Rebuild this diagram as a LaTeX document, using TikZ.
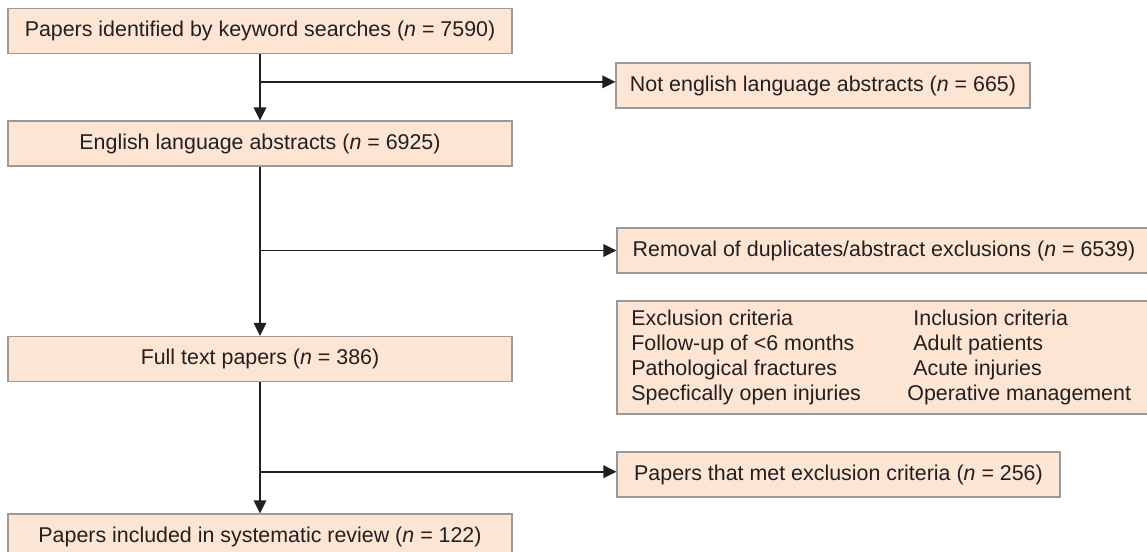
\documentclass[tikz,border=0pt]{standalone}
\usepackage{fontspec}
\setmainfont{Liberation Sans}
\usepackage{tikz}
\usetikzlibrary{shapes,arrows.meta,positioning,calc}
\definecolor{boxfill}{HTML}{FDE5D3}
\definecolor{boxline}{HTML}{9A9A9A}
\definecolor{ink}{HTML}{231F20}

\begin{document}
\begin{tikzpicture}[x=0.5pt,y=-0.5pt,
  txt/.style={text=ink,font=\fontsize{10.7}{12.5}\selectfont},
  box/.style={txt,draw=boxline,fill=boxfill,line width=0.6pt,minimum height=22.5pt,inner sep=0pt},
  mainbox/.style={box,minimum width=252pt},
  arr/.style={draw=ink,line width=0.8pt,-{Triangle[length=6.5pt,width=6.3pt]}}]
\useasboundingbox (0,0) rectangle (1147,552);
\node[mainbox] (search) at (260,31) {Papers identified by keyword searches (\textit{n} = 7590)};
\node[mainbox] (english) at (260,143.5) {English language abstracts (\textit{n} = 6925)};
\node[mainbox] (fulltext) at (260,359) {Full text papers (\textit{n} = 386)};
\node[mainbox] (included) at (260,536.5) {Papers included in systematic review (\textit{n} = 122)};
\node[box,minimum width=207pt] (notenglish) at (823,85.5) {Not english language abstracts (\textit{n} = 665)};
\node[box,minimum width=267pt] (removal) at (884,250.5) {Removal of duplicates/abstract exclusions (\textit{n} = 6539)};
\node[box,minimum width=267pt,minimum height=56.5pt] (criteria) at (884,357.5) {};
\node[txt,anchor=north west,align=left,inner sep=0pt] (exclcrit) at (631,310) {Exclusion criteria\\Follow-up of <6 months\\Pathological fractures\\Specfically open injuries};
\node[txt,anchor=north west,align=left,inner sep=0pt] (inclcrit) at (913,310) {Inclusion criteria\\Adult patients\\Acute injuries\\\hspace*{-3pt}Operative management};
\node[box,minimum width=221.5pt] (metexcl) at (838.5,474.5) {Papers that met exclusion criteria (\textit{n} = 256)};
\coordinate (tipa) at ([yshift=1.8pt]notenglish.west);
\coordinate (tipc) at ([yshift=1.4pt]metexcl.west);
\draw[arr] (search) -- (english);
\draw[arr] (search.south |- tipa) -- (tipa);
\draw[arr] (english) -- (fulltext);
\draw[arr] (english.south |- removal.west) -- (removal);
\draw[arr] (fulltext) -- (included);
\draw[arr] (fulltext.south |- tipc) -- (tipc);
\end{tikzpicture}
\end{document}
